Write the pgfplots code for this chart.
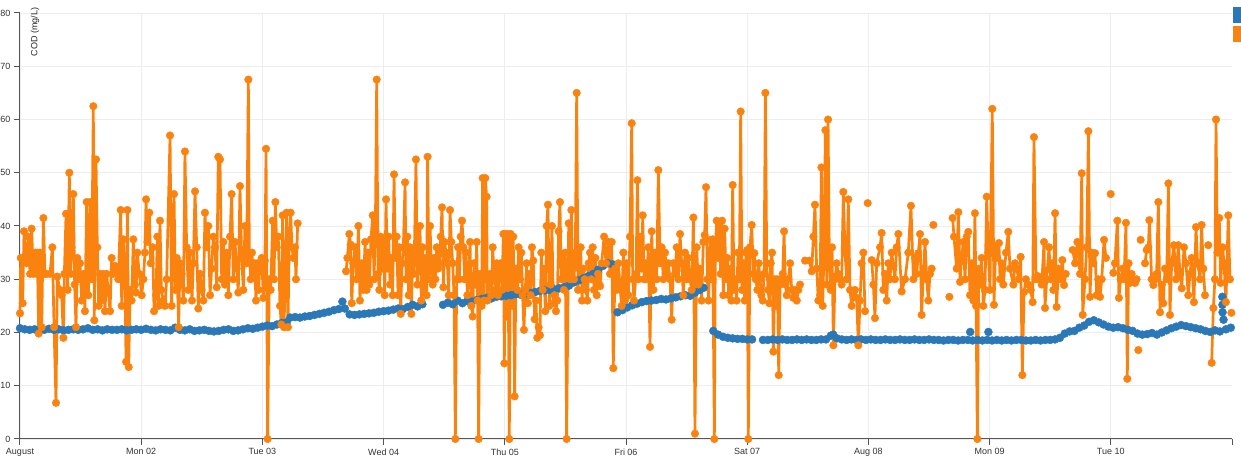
\documentclass[border=0pt]{standalone}
\usepackage{fontspec}
\setmainfont{Liberation Sans}
\usepackage{pgfplots}
\pgfplotsset{compat=1.18}
\definecolor{cblue}{HTML}{2A78B8}
\definecolor{corange}{HTML}{FA8310}
\definecolor{gridc}{HTML}{EDEDED}
\definecolor{axc}{HTML}{555555}
\begin{document}
\begin{tikzpicture}
\begin{axis}[
  scale only axis, width=1212pt, height=426pt,
  xmin=0, xmax=10, ymin=0, ymax=80,
  axis lines=left, axis line style={-, axc, line width=1pt},
  xtick={0,...,9},
  xticklabels={August, Mon 02, Tue 03, Wed 04, Thu 05, Fri 06, Sat 07, Aug 08, Mon 09, Tue 10},
  ytick={0,10,...,80},
  extra x ticks={10}, extra x tick labels={}, extra x tick style={grid=none},
  tick align=outside, major tick length=6pt, tick style={axc, line width=1pt},
  grid=major, major grid style={gridc, line width=0.8pt},
  ticklabel style={font=\fontsize{9}{10}\selectfont, text=black!80},
  /pgf/number format/assume math mode=true,
  unbounded coords=jump,
  clip=false,
]
\addplot[only marks, mark=*, mark size=4pt, mark options={solid, fill=cblue, draw=cblue, line width=0.4pt}, color=cblue] coordinates {
(0.00,20.8)(0.04,20.6)(0.08,20.5)(0.12,20.6)(0.16,20.4)(0.20,20.5)(0.24,20.7)(0.28,20.5)(0.32,20.6)(0.36,20.4)
(0.40,20.5)(0.44,20.6)(0.48,20.5)(0.52,20.6)(0.56,20.8)(0.60,20.5)(0.64,20.6)(0.68,20.4)(0.72,20.6)(0.76,20.5)
(0.80,20.5)(0.84,20.6)(0.88,20.4)(0.92,20.5)(0.96,20.6)(1.00,20.5)(1.04,20.7)(1.08,20.5)(1.12,20.4)(1.16,20.6)
(1.20,20.5)(1.24,20.4)(1.28,20.9)(1.32,20.5)(1.36,20.4)(1.40,20.6)(1.44,20.3)(1.48,20.4)(1.52,20.5)(1.56,20.3)
(1.60,20.2)(1.64,20.3)(1.68,20.5)(1.72,20.6)(1.76,20.3)(1.80,20.4)(1.84,20.6)(1.88,20.8)(1.92,20.7)(1.96,20.9)
(2.00,21.1)(2.04,21.3)(2.08,21.2)(2.12,21.5)(2.16,21.8)(2.20,21.9)(2.23,22.8)(2.27,22.9)(2.31,22.8)(2.35,23.0)
(2.39,23.1)(2.43,23.3)(2.47,23.5)(2.51,23.7)(2.55,23.9)(2.59,24.2)(2.63,24.4)(2.66,25.8)(2.68,24.5)(2.72,23.4)
(2.76,23.3)(2.80,23.4)(2.84,23.5)(2.88,23.6)(2.92,23.7)(2.96,23.9)(3.00,24.0)(3.04,24.1)(3.08,24.3)(3.12,24.5)
(3.16,24.4)(3.20,24.8)(3.24,25.2)(3.28,24.9)(3.32,25.3)
(3.49,25.2)(3.53,25.6)(3.57,25.3)(3.61,26.0)(3.65,25.5)(3.69,25.9)(3.73,25.8)(3.77,26.1)(3.81,26.3)(3.85,26.5)
(3.89,26.4)(3.93,26.7)(3.97,26.8)(4.01,26.9)(4.05,27.0)(4.09,27.2)(4.13,27.1)(4.17,27.3)(4.21,27.4)(4.25,27.6)
(4.29,27.8)(4.33,27.9)(4.37,28.0)(4.41,28.1)(4.45,28.3)(4.49,28.5)(4.53,28.8)(4.57,29.4)(4.61,29.8)(4.65,30.2)
(4.69,30.6)(4.73,31.0)(4.77,31.8)(4.81,32.5)(4.85,33.0)(4.89,32.8)(4.93,23.8)(4.97,24.2)(5.01,24.7)(5.05,25.1)
(5.09,25.4)(5.13,25.7)(5.17,25.9)(5.21,26.0)(5.25,26.1)(5.29,26.3)(5.33,26.2)(5.37,26.4)(5.41,26.6)(5.45,26.8)
(5.49,27.0)(5.53,26.9)(5.57,27.5)(5.61,28.0)(5.64,28.4)(5.72,20.3)(5.76,19.6)(5.80,19.2)(5.84,19.0)(5.88,18.9)
(5.92,18.8)(5.96,18.8)(6.00,18.7)(6.04,18.7)
(6.13,18.6)(6.17,18.6)(6.21,18.7)(6.25,18.6)(6.29,18.7)(6.33,18.6)(6.37,18.6)(6.41,18.7)(6.45,18.6)(6.49,18.7)
(6.53,18.6)(6.57,18.6)(6.61,18.7)(6.65,18.7)(6.69,19.4)(6.71,19.6)(6.74,18.9)(6.78,18.7)(6.82,18.6)(6.86,18.7)
(6.90,18.6)(6.94,18.7)(6.98,18.6)(7.02,18.7)(7.06,18.6)(7.10,18.6)(7.14,18.7)(7.18,18.6)(7.22,18.6)(7.26,18.7)
(7.30,18.6)(7.34,18.6)(7.38,18.7)(7.42,18.6)(7.46,18.6)(7.50,18.7)(7.54,18.6)(7.58,18.6)(7.62,18.5)(7.66,18.6)
(7.70,18.6)(7.74,18.5)(7.78,18.6)(7.82,18.6)(7.84,20.1)(7.86,18.5)(7.90,18.6)(7.94,18.5)(7.98,18.6)(7.99,20.1)
(8.02,18.5)(8.06,18.6)(8.10,18.5)(8.14,18.6)(8.18,18.5)(8.22,18.6)(8.26,18.6)(8.30,18.5)(8.34,18.5)(8.38,18.6)
(8.42,18.5)(8.46,18.6)(8.50,18.6)(8.54,18.7)(8.58,19.0)(8.62,19.8)(8.66,20.2)(8.70,20.3)(8.74,20.9)(8.78,21.3)
(8.82,22.0)(8.86,22.3)(8.90,21.9)(8.94,21.5)(8.98,21.1)(9.02,20.9)(9.06,21.0)(9.10,20.8)(9.14,20.5)(9.18,20.3)
(9.22,19.8)(9.26,19.6)(9.30,19.7)(9.34,19.9)(9.38,19.6)(9.42,20.0)(9.46,20.4)(9.50,20.8)(9.54,21.1)(9.58,21.4)
(9.62,21.2)(9.66,21.0)(9.70,20.8)(9.74,20.6)(9.78,20.3)(9.82,20.1)(9.86,20.4)(9.90,20.2)(9.92,26.7)(9.921,25.2)(9.922,23.8)(9.93,22.4)
(9.95,20.6)(9.99,20.9)
};
\addplot[color=corange, line width=2.7pt, line join=round, mark=*, mark size=3.8pt, mark options={solid, fill=corange, draw=corange, line width=0.4pt}] coordinates {
(0.000,23.6)(0.006,34)(0.022,25.5)(0.033,39)(0.055,33)(0.069,38)(0.083,31)(0.096,39.5)(0.110,31)(0.124,35)
(0.138,31)(0.143,35)(0.154,19.8)(0.165,35)(0.179,21)(0.193,41.5)(0.206,31)(0.220,31)(0.248,31)(0.267,36)
(0.281,21)(0.297,6.8)(0.308,30.5)(0.330,28)(0.344,27)(0.358,19)(0.366,31)(0.380,42.3)(0.393,28)(0.407,50)
(0.418,31)(0.426,36)(0.440,46)(0.451,29)(0.462,21)(0.473,34)(0.484,30)(0.495,33)(0.509,26)(0.523,31)
(0.536,24)(0.550,44.5)(0.564,27)(0.578,44.5)(0.591,30)(0.605,62.5)(0.613,22.3)(0.627,52.5)(0.638,36)(0.649,25)
(0.660,31)(0.674,26)(0.688,31)(0.701,24)(0.715,31)(0.743,24)(0.756,34)(0.770,31)(0.784,32.5)(0.811,30)
(0.831,43)(0.839,25)(0.853,37.5)(0.866,30)(0.875,14.5)(0.886,43)(0.897,13.5)(0.908,28)(0.921,26)(0.935,37.5)
(0.949,29)(0.957,27.5)(0.968,35)(0.985,31)(1.004,27)(1.018,30)(1.031,35)(1.040,45)(1.051,37)(1.067,42.5)
(1.078,33)(1.095,36)(1.106,24)(1.122,27)(1.133,38)(1.144,25)(1.155,41)(1.166,28)(1.183,26)(1.196,25)
(1.210,30)(1.238,57)(1.251,25)(1.271,46)(1.282,28)(1.293,34)(1.309,21)(1.320,33)(1.334,31)(1.348,26)
(1.361,54)(1.375,36)(1.389,28)(1.403,35)(1.419,26)(1.430,33)(1.444,46.5)(1.458,36)(1.471,24.5)(1.485,31)
(1.499,28)(1.513,26)(1.526,42.5)(1.540,36)(1.554,40)(1.568,27)(1.581,32)(1.595,38)(1.609,36)(1.623,28.5)
(1.636,53)(1.650,52.5)(1.664,30)(1.678,37)(1.691,29)(1.705,35)(1.719,27)(1.733,38)(1.746,46)(1.760,30)
(1.774,37)(1.788,32)(1.801,27.5)(1.815,47.5)(1.829,34)(1.843,28)(1.856,40)(1.870,33)(1.884,67.5)(1.892,35)
(1.903,30)(1.914,35)(1.925,31)(1.936,33)(1.947,26)(1.958,33)(1.969,28)(1.980,33)(1.994,34)(2.008,26.5)
(2.021,33.5)(2.030,54.5)(2.043,0)(2.057,30)(2.068,28)(2.085,41)(2.096,30)(2.107,44.5)(2.118,36)(2.131,38)
(2.145,25)(2.156,21.5)(2.167,42)(2.178,21)(2.189,30)(2.200,42.5)(2.211,21)(2.222,38)(2.233,42.5)(2.244,36)
(2.255,34)(2.269,36)(2.277,30)(2.291,40.5)
(2.5,nan)
(2.690,31.5)(2.701,34)(2.717,38.5)(2.728,36.5)(2.737,25.5)(2.750,33)(2.764,36)(2.778,30)(2.792,40)(2.805,26)
(2.819,33)(2.833,28)(2.847,37)(2.860,28)(2.871,35)(2.882,29)(2.896,37.5)(2.910,42)(2.921,30)(2.932,39)
(2.943,67.5)(2.954,31)(2.965,28)(2.976,38)(2.987,32)(2.998,37.5)(3.009,27)(3.020,45)(3.031,32)(3.042,38)
(3.053,29)(3.064,34)(3.075,27)(3.086,49.7)(3.097,34)(3.108,38)(3.119,27)(3.130,36)(3.141,23.5)(3.152,33)
(3.163,36)(3.177,48.2)(3.185,30)(3.196,38)(3.207,27)(3.218,36)(3.229,23.5)(3.240,35)(3.251,31)(3.267,52.5)
(3.278,29)(3.289,36)(3.300,40)(3.311,26)(3.322,36)(3.333,28)(3.344,34)(3.355,27)(3.363,53)(3.374,30)
(3.383,40)(3.394,33)(3.405,29)(3.416,34)(3.427,30)(3.438,36)(3.449,32)(3.460,33)(3.471,38)(3.482,43.5)
(3.493,28.5)(3.504,37)(3.515,35)(3.526,33)(3.537,27)(3.548,43)(3.559,37)(3.570,33)(3.581,27)(3.592,0)
(3.603,30)(3.614,36)(3.625,30)(3.636,38)(3.647,41)(3.658,36)(3.669,30)(3.680,35)(3.691,27)(3.702,30)
(3.713,37)(3.724,25)(3.735,23)(3.746,33)(3.757,29)(3.768,37)(3.776,26)(3.784,0)(3.795,31)(3.809,25)
(3.817,49)(3.828,26)(3.839,49)(3.850,45.5)(3.856,26)(3.867,30)(3.878,31)(3.889,27)(3.900,36)(3.911,31)
(3.922,28)(3.933,33)(3.944,27)(3.955,32)(3.966,33)(3.977,28)(3.988,38.5)(3.996,14.2)(4.007,38.5)(4.015,23)
(4.026,38.5)(4.037,0)(4.048,38.5)(4.059,25)(4.070,38)(4.081,8)(4.092,32)(4.103,28)(4.114,36)(4.125,30)
(4.136,35)(4.147,27)(4.158,20.5)(4.169,28)(4.180,33)(4.191,25.5)(4.202,31)(4.213,27)(4.224,36)(4.235,33.5)
(4.246,22.5)(4.257,26)(4.268,19)(4.279,21)(4.290,19.5)(4.301,35)(4.312,28)(4.323,32)(4.334,24)(4.345,40)
(4.356,44)(4.367,25)(4.378,29)(4.389,40)(4.400,25.5)(4.411,27)(4.422,24)(4.433,26)(4.444,39)(4.455,44.5)
(4.466,30)(4.477,34)(4.488,28)(4.499,35)(4.510,0)(4.527,40.5)(4.538,30)(4.549,43)(4.560,30)(4.571,30)
(4.582,35)(4.593,65)(4.604,28)(4.615,32)(4.626,36)(4.637,26)(4.648,32)(4.659,30)(4.670,28)(4.681,26)
(4.692,33)(4.703,35)(4.714,30)(4.725,36)(4.736,28)(4.747,34)(4.758,27)(4.769,31)(4.780,29)
(4.786,28.7)(4.799,33)(4.819,38)(4.835,33)(4.854,37)(4.868,31)(4.882,37)(4.895,13.3)(4.909,32)(4.923,28)
(4.937,33)(4.951,28.5)(4.964,25)(4.978,35)(4.992,26)(5.006,33)(5.019,27)(5.033,38)(5.047,59.3)(5.055,30)
(5.066,26)(5.083,31)(5.094,48.6)(5.105,30)(5.116,38)(5.129,32)(5.138,42)(5.149,30)(5.160,33)(5.171,30)
(5.184,36)(5.198,17.3)(5.212,39)(5.226,28)(5.239,35)(5.253,30)(5.267,50.5)(5.281,33)(5.294,36)(5.308,30)
(5.322,35)(5.336,31)(5.349,33)(5.363,30)(5.377,22.4)(5.391,33)(5.404,31)(5.418,36)(5.432,30)(5.446,38.5)
(5.459,33)(5.473,27)(5.487,35)(5.501,30)(5.514,34)(5.528,30)(5.542,28)(5.556,41.6)(5.569,1)(5.583,36)
(5.597,29)(5.611,32)(5.624,26)(5.638,37)(5.649,38.3)(5.660,47.3)(5.671,30)(5.682,26)(5.693,37.4)(5.704,30)
(5.715,37.5)(5.729,0)(5.737,36)(5.748,41)(5.759,34)(5.770,40)(5.781,31)(5.792,41)(5.803,27)(5.814,39.5)
(5.825,30)(5.836,34)(5.847,27)(5.858,32)(5.869,26)(5.880,47.7)(5.891,28)(5.902,30)(5.913,26)(5.924,35)
(5.935,30)(5.946,61.5)(5.957,28)(5.968,33)(5.979,26)(5.990,35)(6.001,35.5)(6.009,0)(6.023,36)(6.037,40.2)
(6.051,31)(6.059,34.9)(6.070,30)(6.084,28)(6.095,33)(6.106,30)(6.117,27)(6.128,26)(6.139,31)(6.150,65)
(6.161,33)(6.172,28)(6.183,25.5)(6.194,33)(6.205,35)(6.216,16.4)(6.227,30)(6.238,25)(6.249,30)(6.260,12)
(6.271,29)(6.282,30)(6.293,31)(6.304,39)(6.315,29)(6.326,27)(6.340,30)(6.354,33)(6.367,28)(6.381,26.5)
(6.395,28)(6.409,26)(6.422,28)(6.436,29)
(6.45,nan)(6.477,33.5)(6.49,nan)
(6.513,33.5)(6.532,31.5)(6.546,38)(6.559,44)(6.573,32)(6.587,26)(6.601,27)(6.612,51)(6.623,25)(6.634,36)
(6.645,58)(6.656,29)(6.667,60)(6.678,33)(6.689,28)(6.700,36)(6.711,17.6)(6.724,30)(6.738,33)(6.752,31)
(6.766,30)(6.779,29)(6.793,46.4)(6.807,35)(6.821,30)(6.834,45)(6.848,28)(6.862,25)(6.876,27)(6.889,28)
(6.903,26.5)(6.917,17.6)(6.931,26)(6.944,33)(6.958,35)(6.972,24)
(6.98,nan)(6.994,44.3)(7.01,nan)
(7.027,33.6)(7.041,29)(7.054,22.7)(7.068,33)(7.096,36)(7.109,38.7)(7.123,28)(7.137,31)(7.151,26)(7.164,33)
(7.178,30)(7.192,35)(7.206,32.5)(7.219,30)(7.233,36)(7.247,38.5)
(7.274,27.7)(7.302,30)(7.329,35)(7.351,43.8)(7.371,30)(7.384,34)(7.398,31)(7.412,34.9)(7.426,38.5)(7.439,23.3)
(7.453,31)(7.467,37)(7.481,30)(7.494,26)(7.508,31)(7.522,32)
(7.53,nan)(7.536,40.2)(7.6,nan)(7.668,26.7)(7.68,nan)
(7.695,41.5)(7.706,38)(7.728,32)(7.742,42.6)(7.756,29.5)(7.769,34)(7.783,37)(7.797,30)(7.811,38)(7.824,38.9)
(7.838,27)(7.852,33)(7.866,26)(7.879,42.4)(7.888,25)(7.899,0)(7.910,32)(7.921,29)(7.934,34)(7.948,25)
(7.962,28)(7.976,45.5)(7.989,35)(8.003,28)(8.022,62)(8.036,25.2)(8.050,36)(8.064,34)(8.077,36.8)(8.086,30)
(8.099,33)(8.113,29)(8.135,35)(8.154,38.9)(8.168,32)(8.196,29)(8.209,33)(8.223,32)(8.240,30)(8.256,34.2)
(8.270,12)(8.284,27.6)(8.300,30)(8.319,29)(8.339,28)(8.355,25.7)(8.366,56.7)(8.383,30)(8.397,30.6)(8.416,30)
(8.430,29)(8.449,37)(8.457,24.6)(8.471,30)(8.490,36)(8.504,30)(8.518,33)(8.526,28)(8.540,42.4)(8.553,24.8)
(8.567,32)(8.581,30)(8.600,33.6)(8.614,28.9)(8.628,31)
(8.65,nan)
(8.685,35.5)(8.705,33)(8.724,37)(8.746,31)(8.760,49.9)(8.768,23.3)(8.787,30)(8.801,36)(8.815,57.8)(8.828,26.7)
(8.842,35)(8.856,33)(8.870,34.9)(8.883,27)(8.897,30)(8.911,26.7)(8.925,30)(8.944,37.4)(8.960,34)
(8.98,nan)(8.999,46)(9.01,nan)
(9.021,31.2)(9.034,33)(9.054,41)(9.067,26.5)(9.081,30)(9.098,32)(9.109,30)(9.125,40.6)(9.136,11.3)(9.147,33)
(9.158,29.3)(9.172,31)(9.186,29.5)(9.200,29.3)(9.213,30)
(9.22,nan)(9.227,16.7)(9.235,nan)(9.246,37.4)(9.26,nan)
(9.282,33)(9.296,35.5)(9.310,36)(9.318,41.1)(9.337,30)(9.351,28.9)(9.365,30)(9.378,31)(9.392,44.5)(9.406,23.8)
(9.420,29)(9.433,25.5)(9.447,32)(9.461,30)(9.475,48)(9.488,23.3)(9.502,33)(9.521,36.4)(9.538,30)(9.557,36.4)
(9.571,31)(9.585,28.3)(9.604,36)(9.620,33)(9.639,27)(9.653,31)(9.667,34)(9.686,25.7)(9.703,39.8)(9.716,33)
(9.736,30)(9.749,40.2)(9.763,32)(9.777,27)
(9.79,nan)(9.804,36.4)(9.82,nan)
(9.832,14.3)(9.846,24.6)(9.859,30)(9.868,60)(9.879,35)(9.895,41.5)(9.906,29.3)(9.923,36)(9.934,33)(9.950,25.7)
(9.969,42)(9.983,30)
(9.99,nan)(9.995,23.7)
};
\node[rotate=90, font=\fontsize{9}{10}\selectfont, text=black!85] at ([xshift=15pt,yshift=-19pt]rel axis cs:0,1) {COD (mg/L)};
\end{axis}
\fill[cblue] ([shift={(0.5pt,6pt)}]current axis.north east) rectangle ++(9pt,-16pt);
\fill[corange] ([shift={(0.5pt,-13pt)}]current axis.north east) rectangle ++(9pt,-16pt);
\pgfresetboundingbox
\path[use as bounding box] ([shift={(-20pt,-22pt)}]current axis.south west) rectangle ([shift={(9pt,13pt)}]current axis.north east);
\end{tikzpicture}
\end{document}
